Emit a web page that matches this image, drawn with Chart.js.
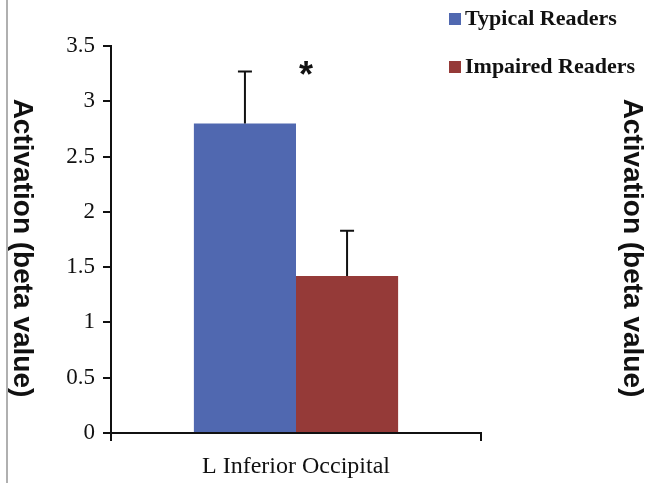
<html>
<head>
<meta charset="utf-8" />
<title>Activation chart</title>
<script src="https://cdn.jsdelivr.net/npm/chart.js@4.4.0/dist/chart.umd.min.js"></script>
<style>
  html, body { margin: 0; padding: 0; background: #fff; }
  #wrap { position: relative; width: 648px; height: 483px; }
  #wrap:before { content: ""; position: absolute; left: 6px; top: 0; bottom: 0; border-left: 2px solid #b0b0b0; }
</style>
</head>
<body>
<div id="wrap"><canvas id="chart" width="648" height="483"></canvas></div>
<script>
// data
const categories = ["L Inferior Occipital"];
const seriesNames = ["Typical Readers", "Impaired Readers"];
const typicalValues = [2.8];
const impairedValues = [1.42];
const typicalErrors = [0.47];
const impairedErrors = [0.41];
const yTicks = [0, 0.5, 1, 1.5, 2, 2.5, 3, 3.5];
const yTitle = "Activation (beta value)";
const significance = "*";

const blue = "#5068b0";
const red = "#953a38";
const serif = "'Liberation Serif', 'DejaVu Serif', serif";
const sans = "'Liberation Sans', Arial, sans-serif";

// error bars, star, side titles and the legend box
const extras = {
  id: "extras",
  afterDatasetsDraw(chart) {
    const ctx = chart.ctx;
    const y = chart.scales.y;
    ctx.save();
    ctx.strokeStyle = "#111";
    ctx.lineWidth = 2;
    chart.data.datasets.forEach((ds, i) => {
      chart.getDatasetMeta(i).data.forEach((bar, j) => {
        const top = y.getPixelForValue(ds.data[j] + ds.errors[j]);
        ctx.beginPath();
        ctx.moveTo(bar.x, bar.y);
        ctx.lineTo(bar.x, top);
        ctx.moveTo(bar.x - 7, top);
        ctx.lineTo(bar.x + 7, top);
        ctx.stroke();
      });
    });
    // significance star
    const b0 = chart.getDatasetMeta(1).data[0];
    ctx.fillStyle = "#111";
    ctx.font = "bold 36px " + sans;
    ctx.textAlign = "center";
    ctx.textBaseline = "middle";
    ctx.fillText(significance, b0.x - b0.width / 2 + 10, y.getPixelForValue(3.22));

    // axis titles, both reading top to bottom
    ctx.font = "bold 28px " + sans;
    [22, 632].forEach(cx => {
      ctx.save();
      ctx.translate(cx, 248);
      ctx.rotate(Math.PI / 2);
      ctx.fillText(yTitle, 0, 0);
      ctx.restore();
    });

    // legend
    ctx.font = "bold 22px " + serif;
    ctx.textAlign = "left";
    chart.data.datasets.forEach((ds, i) => {
      const ly = 19 + i * 48;
      ctx.fillStyle = ds.backgroundColor;
      ctx.fillRect(449, ly - 6, 12, 12);
      ctx.fillStyle = "#111";
      ctx.fillText(ds.label, 465, ly);
    });
    ctx.restore();
  }
};

new Chart(document.getElementById("chart"), {
  type: "bar",
  data: {
    labels: categories,
    datasets: [
      { label: seriesNames[0], data: typicalValues, errors: typicalErrors, backgroundColor: blue },
      { label: seriesNames[1], data: impairedValues, errors: impairedErrors, backgroundColor: red }
    ]
  },
  options: {
    responsive: false,
    animation: false,
    layout: { padding: { left: 0, right: 167, top: 46, bottom: 0 } },
    categoryPercentage: 0.552,
    barPercentage: 1,
    plugins: { legend: { display: false }, tooltip: { enabled: false } },
    scales: {
      x: {
        grid: { display: true, drawOnChartArea: false, tickLength: 8, color: "#111", lineWidth: 2 },
        border: { color: "#111", width: 2 },
        ticks: { color: "#111", font: { family: serif, size: 24 }, padding: 11 },
        afterFit(scale) { scale.height = 50; }
      },
      y: {
        min: 0, max: 3.5,
        afterBuildTicks(scale) { scale.ticks = yTicks.map(v => ({ value: v })); },
        grid: { display: true, drawOnChartArea: false, tickLength: 8, color: "#111", lineWidth: 2 },
        border: { color: "#111", width: 2 },
        ticks: { color: "#111", font: { family: serif, size: 23 }, padding: 8, callback: v => String(v) },
        afterFit(scale) { scale.width = 111; }
      }
    }
  },
  plugins: [extras]
});
</script>
</body>
</html>
